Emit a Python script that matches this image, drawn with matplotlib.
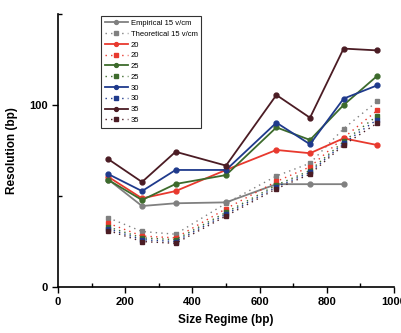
import matplotlib
matplotlib.use('Agg')
import matplotlib.pyplot as plt

plt.rcParams['font.family'] = ['Liberation Sans', 'DejaVu Sans']

size_bp = [150, 250, 350, 500, 650, 750, 850, 950]

emp_15 = [59, 44.5, 46, 46.5, 56.5, 56.5, 56.5]
emp_20 = [60.5, 48.7, 52.7, 64.3, 75.3, 73.5, 81.7, 78]
emp_25 = [58.8, 47.8, 56.6, 61.5, 87.7, 80.8, 100, 116]
emp_30 = [62, 52.7, 64.3, 64.3, 90.3, 78.4, 103.5, 110.8]
emp_35 = [70.2, 57.7, 74.3, 66.7, 105.5, 93, 131, 130]

theo_15 = [38, 30.5, 29, 46, 61, 68, 87, 102]
theo_20 = [35, 28, 27, 43, 58, 66, 82, 97]
theo_25 = [33, 27, 26, 41, 56, 64, 80, 94]
theo_30 = [32, 26, 25, 40, 55, 63, 79, 92]
theo_35 = [31, 25, 24, 39, 54, 62, 78, 90]

colors = {'15': '#808080', '20': '#e8392e', '25': '#3d6b2c',
          '30': '#1f3a8c', '35': '#4b1c24'}

fig = plt.figure(figsize=(4.01, 3.33), dpi=100)
ax = fig.add_axes([58/401, 46/333, 336/401, 273/333])

series = [
    ('15', emp_15, theo_15, 'Empirical 15 v/cm', 'Theoretical 15 v/cm'),
    ('20', emp_20, theo_20, '20', '20'),
    ('25', emp_25, theo_25, '25', '25'),
    ('30', emp_30, theo_30, '30', '30'),
    ('35', emp_35, theo_35, '35', '35'),
]

for key, emp, theo, lab_e, lab_t in series:
    c = colors[key]
    ax.plot(size_bp[:len(emp)], emp, color=c, lw=1.3, marker='o', ms=3.5,
            label=lab_e)
    ax.plot(size_bp, theo, color=c, lw=1.0, ls=(0, (1, 3)), marker='s', ms=3,
            label=lab_t)

ax.set_xlim(0, 1000)
ax.set_ylim(0, 150)
ax.set_xticks([0, 200, 400, 600, 800, 1000])
ax.set_xticks([100, 300, 500, 700, 900], minor=True)
ax.set_yticks([0, 100])
ax.set_yticks([50, 150], minor=True)
ax.tick_params(which='major', direction='out', length=4, width=1, labelsize=8)
ax.tick_params(which='minor', direction='in', length=3, width=1)
for lbl in ax.get_xticklabels() + ax.get_yticklabels():
    lbl.set_fontweight('bold')

for s in ['top', 'right']:
    ax.spines[s].set_visible(False)
for s in ['left', 'bottom']:
    ax.spines[s].set_linewidth(1.2)

ax.set_xlabel('Size Regime (bp)', fontsize=8.5, fontweight='bold', labelpad=5)
ax.set_ylabel('Resolution (bp)', fontsize=8.5, fontweight='bold', labelpad=8)

leg = fig.legend(loc='upper left', bbox_to_anchor=(97/401, 1 - 12/333),
                 fontsize=5.5, frameon=True, fancybox=False, handlelength=3,
                 labelspacing=0.45, borderpad=0.5, handletextpad=0.4,
                 markerscale=0.8)
leg.get_frame().set_edgecolor('black')
leg.get_frame().set_linewidth(0.8)

fig.savefig('out.png', dpi=100)
